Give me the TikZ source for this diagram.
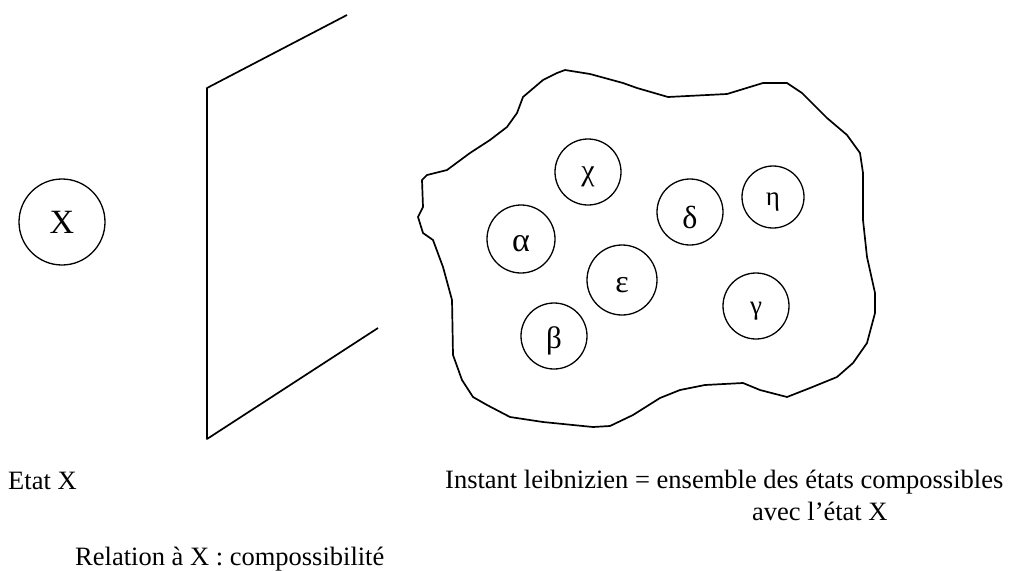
\documentclass[tikz,border=0pt]{standalone}
\usepackage{fontspec}
\setmainfont{Liberation Serif}
\begin{document}
\begin{tikzpicture}[x=1pt,y=-1pt,
  line/.style={line width=1.7pt, line join=round},
  state/.style={circle, draw, line width=1.3pt, inner sep=0pt},
  glyph/.style={inner sep=0pt, yshift=-5pt},
  label/.style={anchor=base west, inner sep=0pt, font=\fontsize{26.5}{30}\selectfont}]
\useasboundingbox (0,0) rectangle (1011,570);
% state X
\node[state, minimum size=86pt, font=\fontsize{34}{34}\selectfont] (X) at (62,222) {X};
% panel
\coordinate (p1) at (347,15);
\coordinate (p2) at (207,88);
\coordinate (p3) at (207,439);
\coordinate (p4) at (378,328);
\draw[line] (p1) -- (p2) -- (p3) -- (p4);
% blob
\draw[line] (565,70) -- (590,74) -- (623,83) -- (637,88) -- (668,97) -- (727,94)
  -- (763,83) -- (787,83) -- (802,93) -- (827,118) -- (847,135) -- (860,153)
  -- (863,173) -- (863,220) -- (867,257) -- (875,293) -- (875,313) -- (867,343)
  -- (853,363) -- (837,377) -- (810,388) -- (787,397) -- (760,390) -- (743,383)
  -- (705,385) -- (680,390) -- (660,398) -- (633,415) -- (610,426) -- (593,427)
  -- (543,422) -- (510,417) -- (487,405) -- (473,397) -- (462,380) -- (453,355)
  -- (452,300) -- (443,267) -- (433,240) -- (423,233) -- (418,217) -- (423,207)
  -- (422,180) -- (427,175) -- (447,170) -- (470,153) -- (490,140) -- (507,127)
  -- (517,113) -- (523,97) -- (543,80) -- (557,73) -- cycle;
% compossible states
\node[state, minimum size=66pt] (chi) at (588,172) {};
\node[state, minimum size=68pt] (alpha) at (521,239) {};
\node[state, minimum size=66pt] (delta) at (690,212) {};
\node[state, minimum size=62pt] (eta) at (773,197) {};
\node[state, minimum size=70pt] (eps) at (622,280) {};
\node[state, minimum size=66pt] (gamma) at (756,306) {};
\node[state, minimum size=66pt] (beta) at (554,336) {};
\node[glyph, font=\fontsize{30}{30}\selectfont] (tchi) at (chi.center) {χ};
\node[glyph, font=\fontsize{34}{34}\selectfont] (talpha) at (alpha.center) {α};
\node[glyph, font=\fontsize{32}{32}\selectfont] (tdelta) at (delta.center) {δ};
\node[glyph, font=\fontsize{27}{27}\selectfont] (teta) at (eta.center) {η};
\node[glyph, font=\fontsize{32}{32}\selectfont] (teps) at (eps.center) {ε};
\node[glyph, font=\fontsize{27}{27}\selectfont] (tgamma) at (gamma.center) {γ};
\node[glyph, font=\fontsize{31}{31}\selectfont] (tbeta) at (beta.center) {β};
% labels
\node[label] (etat) at (8,489) {Etat X};
\node[label] (inst1) at (445,488) {Instant leibnizien = ensemble des états compossibles};
\node[label] (inst2) at (752,520) {avec l’état X};
\node[label] (rel) at (75,565) {Relation à X : compossibilité};
\end{tikzpicture}
\end{document}
